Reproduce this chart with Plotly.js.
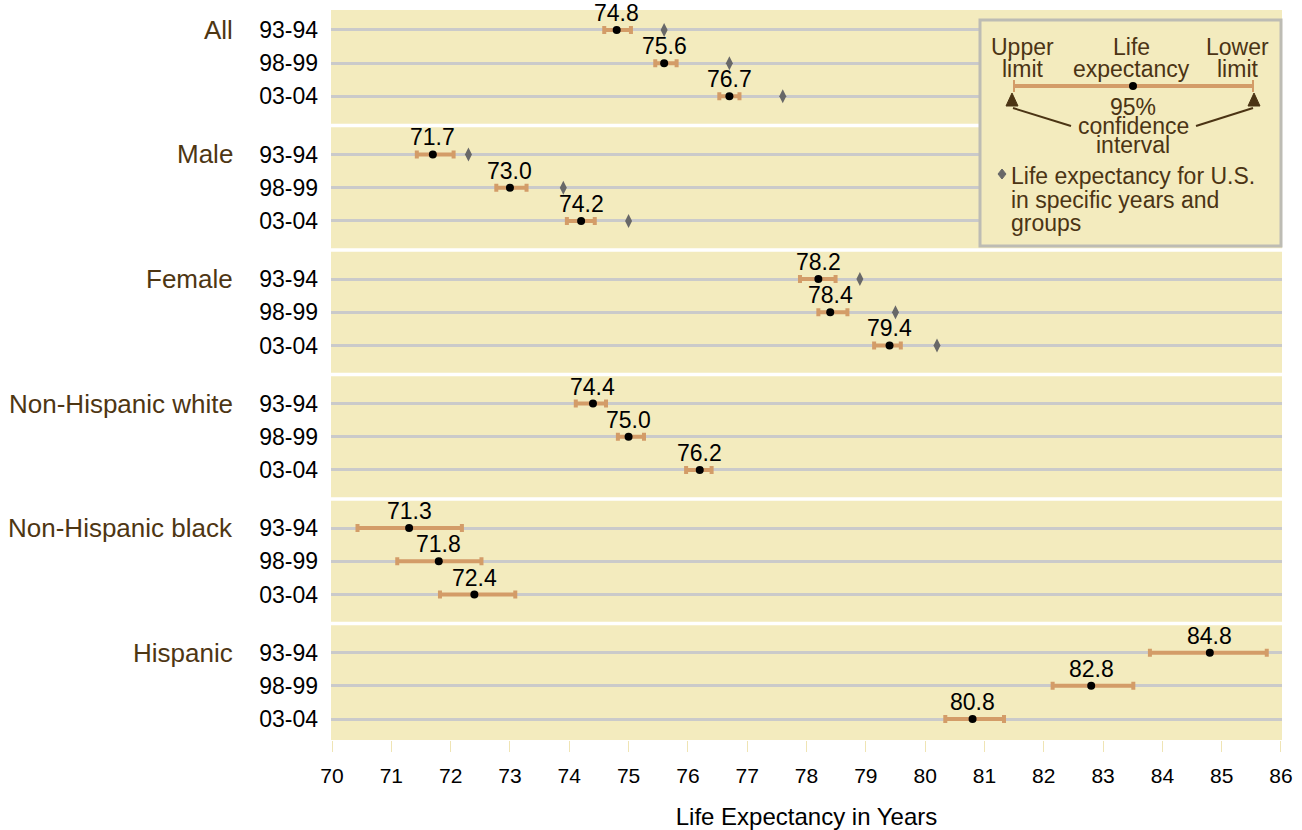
<!DOCTYPE html>
<html>
<head>
<meta charset="utf-8">
<script src="https://cdn.plot.ly/plotly-3.0.1.min.js"></script>
<style>html,body{margin:0;padding:0;background:#fff;}#chart{width:1302px;height:830px;}</style>
</head>
<body>
<div id="chart"></div>
<script>
// ---- data ----
const groups = ['All', 'Male', 'Female', 'Non-Hispanic white', 'Non-Hispanic black', 'Hispanic'];
const periods = ['93-94', '98-99', '03-04'];
const estimate = [74.8, 75.6, 76.7, 71.7, 73.0, 74.2, 78.2, 78.4, 79.4, 74.4, 75.0, 76.2, 71.3, 71.8, 72.4, 84.8, 82.8, 80.8];
const lowerCI  = [74.59, 75.45, 76.53, 71.43, 72.77, 73.96, 77.89, 78.20, 79.14, 74.11, 74.82, 75.97, 70.43, 71.10, 71.82, 83.79, 82.15, 80.34];
const upperCI  = [75.04, 75.81, 76.87, 72.05, 73.28, 74.43, 78.49, 78.69, 79.59, 74.62, 75.26, 76.40, 72.19, 72.52, 73.09, 85.76, 83.51, 81.33];
const usValue  = [75.6, 76.7, 77.6, 72.3, 73.9, 75.0, 78.9, 79.5, 80.2, null, null, null, null, null, null, null, null, null];
const xTicks = [70, 71, 72, 73, 74, 75, 76, 77, 78, 79, 80, 81, 82, 83, 84, 85, 86];

// ---- layout helpers ----
const GROUP_STEP = 3.75;
const rowY = [];
const rowText = [];
groups.forEach((g, gi) => periods.forEach((p, pi) => { rowY.push(gi * GROUP_STEP + pi); rowText.push(p); }));

const PL = 331, PR = 1282, PT = 10, PB = 740;
const px = x => (x - PL) / (PR - PL);
const py = y => (PB - y) / (PB - PT);

const FONT = 'Liberation Sans, Arial, sans-serif';
const tan = '#d39c68';
const brown = '#4b3414';

const traces = [
  {
    type: 'scatter', mode: 'markers',
    x: estimate, y: rowY,
    marker: {color: '#000', size: 8},
    error_x: {
      type: 'data', symmetric: false,
      array: upperCI.map((u, i) => u - estimate[i]),
      arrayminus: lowerCI.map((l, i) => estimate[i] - l),
      color: tan, thickness: 4, width: 4
    },
    showlegend: false, cliponaxis: false
  },
  {
    type: 'scatter', mode: 'markers',
    x: usValue, y: rowY,
    marker: {color: '#686868', size: 10, symbol: 'diamond-tall'},
    showlegend: false
  }
];

const shapes = [];
// white separators between groups
for (let g = 0; g < groups.length - 1; g++) {
  const ys = g * GROUP_STEP + 2 + (GROUP_STEP - 2) / 2;
  shapes.push({type: 'line', xref: 'paper', yref: 'y', x0: 0, x1: 1, y0: ys, y1: ys, line: {color: '#ffffff', width: 3.5}, layer: 'below'});
}
// legend box
shapes.push({type: 'rect', xref: 'paper', yref: 'paper', x0: px(980), x1: px(1281), y0: py(20), y1: py(246),
  fillcolor: '#f3ebbe', line: {color: '#bdbcb4', width: 3}, layer: 'above'});
// legend CI bar
shapes.push({type: 'line', xref: 'paper', yref: 'paper', x0: px(1014), x1: px(1253), y0: py(86), y1: py(86), line: {color: tan, width: 4}, layer: 'above'});
shapes.push({type: 'line', xref: 'paper', yref: 'paper', x0: px(1014), x1: px(1014), y0: py(80), y1: py(92), line: {color: tan, width: 2}, layer: 'above'});
shapes.push({type: 'line', xref: 'paper', yref: 'paper', x0: px(1253), x1: px(1253), y0: py(80), y1: py(92), line: {color: tan, width: 2}, layer: 'above'});
shapes.push({type: 'circle', xref: 'paper', yref: 'paper', x0: px(1129), x1: px(1137), y0: py(82), y1: py(90), fillcolor: '#000', line: {width: 0}, layer: 'above'});
// arrows
function tri(cx, tip, base, hw) {
  return `M${px(cx)},${py(tip)} L${px(cx - hw)},${py(base)} L${px(cx + hw)},${py(base)} Z`;
}
shapes.push({type: 'path', xref: 'paper', yref: 'paper', path: tri(1012, 93, 106, 6), fillcolor: brown, line: {color: brown, width: 1}, layer: 'above'});
shapes.push({type: 'path', xref: 'paper', yref: 'paper', path: tri(1254, 93, 106, 6), fillcolor: brown, line: {color: brown, width: 1}, layer: 'above'});
shapes.push({type: 'line', xref: 'paper', yref: 'paper', x0: px(1013), y0: py(108), x1: px(1071), y1: py(126), line: {color: brown, width: 2}, layer: 'above'});
shapes.push({type: 'line', xref: 'paper', yref: 'paper', x0: px(1196), y0: py(126), x1: px(1253), y1: py(108), line: {color: brown, width: 2}, layer: 'above'});
// legend diamond
shapes.push({type: 'path', xref: 'paper', yref: 'paper',
  path: `M${px(1002)},${py(169)} L${px(1006)},${py(174)} L${px(1002)},${py(179)} L${px(998)},${py(174)} Z`,
  fillcolor: '#686868', line: {color: '#686868', width: 1}, layer: 'above'});

const annotations = [];
// value labels above each estimate
estimate.forEach((v, i) => annotations.push({
  xref: 'x', yref: 'y', x: v, y: rowY[i], xanchor: 'center', yanchor: 'middle', yshift: 17,
  text: v.toFixed(1), showarrow: false, font: {family: FONT, size: 23, color: '#000'}
}));
// group labels
groups.forEach((g, gi) => annotations.push({
  xref: 'paper', yref: 'y', x: 0, y: gi * GROUP_STEP, xanchor: 'right', yanchor: 'middle', xshift: -96,
  text: g, showarrow: false, font: {family: FONT, size: 26, color: '#4e3613'}
}));
function legTxt(text, x, y, anchor) {
  annotations.push({xref: 'paper', yref: 'paper', x: px(x), y: py(y), xanchor: anchor || 'center', yanchor: 'middle',
    text: text, showarrow: false, font: {family: FONT, size: 23, color: brown}});
}
legTxt('Upper', 1022, 47); legTxt('limit', 1022, 69);
legTxt('Life', 1131, 47); legTxt('expectancy', 1131, 69);
legTxt('Lower', 1237, 47); legTxt('limit', 1237, 69);
legTxt('95%', 1133, 107); legTxt('confidence', 1133, 126); legTxt('interval', 1133, 145);
legTxt('Life expectancy for U.S.', 1009, 176, 'left');
legTxt('in specific years and', 1009, 200, 'left');
legTxt('groups', 1009, 223, 'left');

const layout = {
  width: 1302, height: 830,
  margin: {l: PL, r: 1302 - PR, t: PT, b: 830 - PB},
  paper_bgcolor: '#ffffff', plot_bgcolor: '#f3ebbe',
  font: {family: FONT, color: '#000'},
  xaxis: {
    range: [69.983, 86.017], tickvals: xTicks, ticktext: xTicks.map(String),
    showgrid: false, zeroline: false, showline: false,
    ticks: 'outside', ticklen: 11, tickwidth: 1, tickcolor: '#efe4b4',
    ticklabelstandoff: 6,
    tickfont: {size: 21, color: '#000'},
    title: {text: 'Life Expectancy in Years', font: {size: 24, color: '#000'}, standoff: 22},
    fixedrange: true
  },
  yaxis: {
    range: [rowY[rowY.length - 1] + 0.63, -0.6],
    tickvals: rowY, ticktext: rowText,
    showgrid: true, gridcolor: '#cacaca', gridwidth: 3,
    zeroline: false, showline: false, ticks: '',
    ticklabelstandoff: 12,
    tickfont: {size: 23, color: '#000'},
    fixedrange: true
  },
  shapes: shapes,
  annotations: annotations,
  showlegend: false
};

Plotly.newPlot('chart', traces, layout, {displayModeBar: false, staticPlot: true});
</script>
</body>
</html>
